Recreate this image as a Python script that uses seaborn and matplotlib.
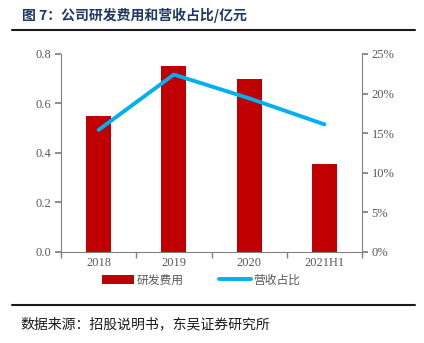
import matplotlib
matplotlib.use("Agg")
import matplotlib.pyplot as plt
import seaborn as sns
import pandas as pd
from matplotlib.ticker import FixedLocator, FuncFormatter
from matplotlib.patches import Patch
from matplotlib.lines import Line2D

categories = ["2018", "2019", "2020", "2021H1"]
rd_expense = [0.55, 0.75, 0.70, 0.355]
rd_ratio = [15.4, 22.4, 19.4, 16.1]
left_ticks = [0.0, 0.2, 0.4, 0.6, 0.8]
right_ticks = [0, 5, 10, 15, 20, 25]

sns.set_theme(style="white")
plt.rcParams['font.family'] = ['Liberation Serif', 'Noto Sans CJK SC', 'DejaVu Sans']

df = pd.DataFrame({"cat": categories, "rd": rd_expense, "ratio": rd_ratio})

fig = plt.figure(figsize=(4.24, 3.43), dpi=100)
ax = fig.add_axes([61/424, 1-251.7/343, (362-61)/424, (251.7-54)/343])

RED = "#C00000"
BLUE = "#00B0F0"
GREY = "#808080"
TXT = "#595959"

sns.barplot(data=df, x="cat", y="rd", ax=ax, color=RED, width=0.33,
            saturation=1, edgecolor="none")
ax.set_ylim(0, 0.8)
ax.set_xlim(-0.5, 3.5)
ax.set_xlabel("")
ax.set_ylabel("")
ax.yaxis.set_major_locator(FixedLocator(left_ticks))
ax.yaxis.set_major_formatter(FuncFormatter(lambda v, p: f"{v:.1f}"))

ax2 = ax.twinx()
sns.pointplot(data=df, x="cat", y="ratio", ax=ax2, color=BLUE, markers="",
              linewidth=2.8)
ax2.set_ylim(0, 25)
ax2.set_xlim(-0.5, 3.5)
ax2.set_ylabel("")
ax2.set_xlabel("")
ax2.yaxis.set_major_locator(FixedLocator(right_ticks))
ax2.yaxis.set_major_formatter(FuncFormatter(lambda v, p: f"{int(v)}%"))

for a in (ax, ax2):
    a.spines["top"].set_visible(False)
    for s in ("left", "right", "bottom"):
        a.spines[s].set_color(GREY)
        a.spines[s].set_linewidth(0.8)
ax.spines["right"].set_visible(False)
ax2.spines["left"].set_visible(False)
ax2.spines["bottom"].set_visible(False)

ax.tick_params(axis="y", left=True, length=4, color=GREY, labelsize=9,
               labelcolor=TXT, pad=3)
ax2.tick_params(axis="y", right=True, length=4, color=GREY, labelsize=9,
                labelcolor=TXT, pad=3)
ax.tick_params(axis="x", bottom=True, length=0, labelsize=9, labelcolor=TXT, pad=4)
ax.xaxis.set_minor_locator(FixedLocator([-0.5, 0.5, 1.5, 2.5, 3.5]))
ax.tick_params(axis="x", which="minor", bottom=True, length=4, color=GREY)
for lab in ax.get_xticklabels() + ax.get_yticklabels() + ax2.get_yticklabels():
    lab.set_fontfamily(['Liberation Serif'])

handles = [Patch(facecolor=RED, edgecolor="none"),
           Line2D([0], [0], color=BLUE, lw=2.8)]
fig.legend(handles, ["研发费用", "营收占比"], loc="center",
           bbox_to_anchor=(201/424, 1-280/343), ncol=2, frameon=False,
           prop={"family": ["Noto Sans CJK SC"], "size": 8.5},
           labelcolor=TXT, handlelength=2.7, handleheight=0.7,
           columnspacing=3.0, handletextpad=0.2)

fig.text(22/424, 1-15/343, "图 7：公司研发费用和营收占比/亿元",
         fontsize=10, fontweight="bold", color="#1F3864",
         family=["Noto Sans CJK SC", "DejaVu Sans"], va="center", ha="left")
fig.add_artist(Line2D([12/424, 415/424], [1-30/343, 1-30/343],
                      color="#1a1a1a", lw=1.5, transform=fig.transFigure))
fig.add_artist(Line2D([12/424, 415/424], [1-305/343, 1-305/343],
                      color="#1a1a1a", lw=1.5, transform=fig.transFigure))
fig.text(20/424, 1-324/343, "数据来源：招股说明书，东吴证券研究所",
         fontsize=10, color="#1a1a1a",
         family=["Noto Sans CJK SC", "DejaVu Sans"], va="center", ha="left")

fig.savefig("out.png", dpi=100)
